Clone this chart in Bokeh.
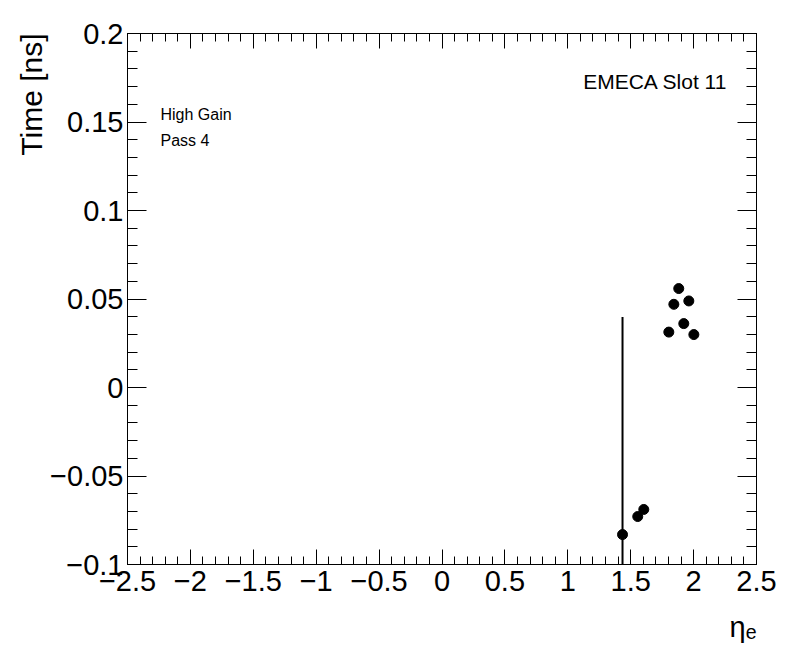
from bokeh.plotting import figure
from bokeh.models import (Range1d, LinearAxis, SingleIntervalTicker, CustomJSTickFormatter,
                          CustomLabelingPolicy, Label, Title, ColumnDataSource)
from bokeh.embed import file_html
from bokeh.resources import INLINE

# ---- data ----
eta = [1.435, 1.556, 1.604, 1.803, 1.843, 1.882, 1.922, 1.962, 2.002]
time_ns = [-0.0831, -0.0729, -0.0689, 0.0313, 0.0470, 0.0559, 0.0361, 0.0489, 0.0299]
time_err = [0.1229, 0.0, 0.0, 0.0, 0.0, 0.0, 0.0, 0.0, 0.0]

x_lo, x_hi = -2.5, 2.5
y_lo, y_hi = -0.1, 0.2

src = ColumnDataSource(dict(
    x=eta, y=time_ns,
    ylo=[v - e for v, e in zip(time_ns, time_err)],
    yhi=[v + e for v, e in zip(time_ns, time_err)],
))

FONT = "Liberation Sans"

p = figure(width=796, height=672, output_backend="svg", toolbar_location=None,
           x_range=Range1d(x_lo, x_hi), y_range=Range1d(y_lo, y_hi),
           x_axis_location=None, y_axis_location=None,
           min_border_left=127, min_border_right=40, min_border_top=33, min_border_bottom=108)
p.xgrid.visible = False
p.ygrid.visible = False
p.outline_line_color = "black"
p.outline_line_width = 1
p.background_fill_color = "white"
p.border_fill_color = "white"

fmt = CustomJSTickFormatter(code="""
const v = Math.round(tick * 1000) / 1000;
return (v < 0 ? "\u2212" : "") + String(Math.abs(v));
""")

no_labels = CustomLabelingPolicy(code="""
try {
  const r = indices.clone();
  for (const i of indices) { r.unset(i); }
  return r;
} catch (e) {
  return indices;
}
""")

def make_axis(kind, show_labels):
    if kind == "x":
        ax = LinearAxis(ticker=SingleIntervalTicker(interval=0.5, num_minor_ticks=5))
        maj, mnr = 15, 8
    else:
        ax = LinearAxis(ticker=SingleIntervalTicker(interval=0.05, num_minor_ticks=5))
        maj, mnr = 19, 10
    ax.formatter = fmt
    ax.major_tick_in = maj
    ax.major_tick_out = 0
    ax.minor_tick_in = mnr
    ax.minor_tick_out = 0
    ax.axis_line_color = "black"
    ax.major_tick_line_color = "black"
    ax.minor_tick_line_color = "black"
    ax.major_label_text_font = FONT
    ax.major_label_text_color = "black"
    if show_labels:
        ax.major_label_text_font_size = "29px"
    else:
        ax.major_label_text_font_size = "1px"
        ax.major_label_standoff = 0
        ax.major_label_policy = no_labels
    return ax

bottom = make_axis("x", True)
bottom.major_label_standoff = 6
left = make_axis("y", True)
left.major_label_standoff = 4
top = make_axis("x", False)
right = make_axis("y", False)
p.add_layout(bottom, "below")
p.add_layout(left, "left")
p.add_layout(top, "above")
p.add_layout(right, "right")

# axis titles, aligned to the ends (ROOT style)
p.add_layout(Title(text="Time [ns]", align="right", vertical_align="bottom",
                   standoff=0, offset=0, text_font=FONT, text_font_size="30px",
                   text_font_style="normal", text_color="black"), "left")
p.add_layout(Title(text="\u03b7\u2091", align="right", vertical_align="top",
                   standoff=34, offset=0, text_font=FONT, text_font_size="29px",
                   text_font_style="normal", text_color="black"), "below")

# error bars and markers
p.segment(x0="x", y0="ylo", x1="x", y1="yhi", source=src, line_color="black", line_width=2)
p.scatter(x="x", y="y", source=src, size=10, color="black")

# annotations
p.add_layout(Label(x=-2.238, y=0.1542, text="High Gain", text_align="left",
                   text_baseline="alphabetic", text_font=FONT, text_font_size="16px",
                   text_color="black"))
p.add_layout(Label(x=-2.238, y=0.1394, text="Pass 4", text_align="left",
                   text_baseline="alphabetic", text_font=FONT, text_font_size="16px",
                   text_color="black"))
p.add_layout(Label(x=2.2695, y=0.1731, text="EMECA Slot 11", text_align="right",
                   text_baseline="alphabetic", text_font=FONT, text_font_size="21px",
                   text_color="black"))

open("out.html", "w").write(file_html(p, INLINE))
